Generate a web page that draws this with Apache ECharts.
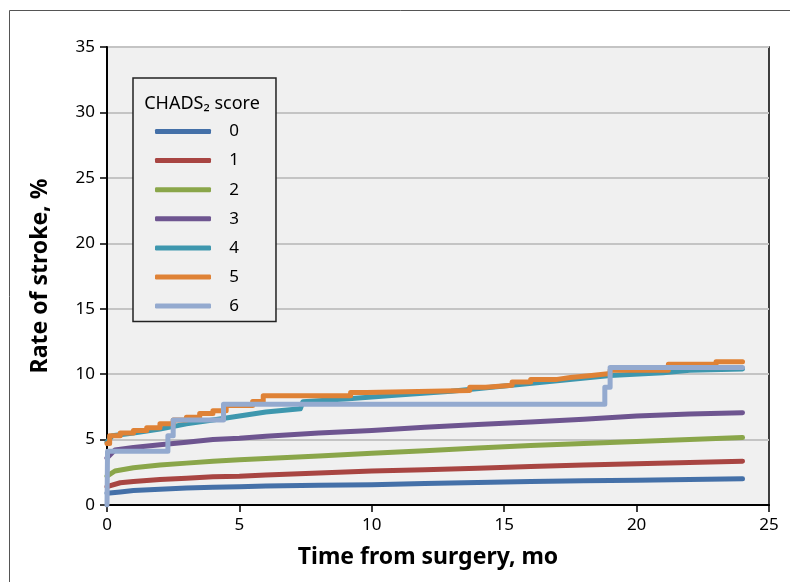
<!DOCTYPE html>
<html>
<head>
<meta charset="utf-8">
<script src="https://cdn.jsdelivr.net/npm/echarts@6/dist/echarts.min.js"></script>
<style>
  html, body { margin: 0; padding: 0; background: #fff; }
  #chart { width: 790px; height: 582px; }
</style>
</head>
<body>
<div id="chart"></div>
<script>
// CHADS2 score groups
var scoreNames = ["0", "1", "2", "3", "4", "5", "6"];
var colors = ["#4470A8", "#A84542", "#8AA64A", "#6E5590", "#3E97AE", "#DF8236", "#94AACF"];

// months / rate of stroke (%)
var t0 = [0, 0.5, 1, 2, 3, 4, 5, 6, 8, 10, 12, 14, 16, 18, 20, 22, 24];
var v0 = [0.9, 1.0, 1.1, 1.2, 1.3, 1.35, 1.4, 1.45, 1.5, 1.55, 1.65, 1.72, 1.8, 1.85, 1.9, 1.95, 2.0];

var t1 = [0, 0.5, 1, 2, 3, 4, 5, 6, 8, 10, 12, 14, 16, 18, 20, 22, 24];
var v1 = [1.4, 1.7, 1.8, 1.95, 2.05, 2.15, 2.2, 2.3, 2.45, 2.6, 2.7, 2.8, 2.95, 3.05, 3.15, 3.25, 3.35];

var t2 = [0, 0.3, 1, 2, 3, 4, 5, 6, 8, 10, 12, 14, 16, 18, 20, 22, 24];
var v2 = [2.2, 2.6, 2.85, 3.05, 3.2, 3.35, 3.45, 3.55, 3.75, 3.95, 4.15, 4.35, 4.55, 4.7, 4.85, 5.0, 5.15];

var t3 = [0, 0.3, 1, 2, 3, 4, 5, 6, 8, 10, 12, 14, 16, 18, 20, 22, 24];
var v3 = [3.6, 4.2, 4.4, 4.6, 4.8, 5.0, 5.1, 5.25, 5.5, 5.7, 5.95, 6.15, 6.35, 6.55, 6.8, 6.95, 7.05];

var t4 = [0, 0.2, 1, 2, 3, 4, 5, 6, 7, 7.3, 7.4, 9, 11, 13, 15, 17, 19, 21, 22, 24];
var v4 = [4.8, 5.3, 5.5, 5.8, 6.2, 6.5, 6.8, 7.1, 7.3, 7.35, 7.9, 8.1, 8.4, 8.7, 9.1, 9.5, 9.9, 10.1, 10.3, 10.4];

var t5 = [0, 0.1, 0.5, 1, 1.5, 2, 2.5, 3, 3.5, 4, 4.5, 5.5, 5.9, 9.2, 9.8, 13.7, 14.3, 15.3, 16, 17, 17.5, 18.3, 19, 21.2, 23, 24];
var v5 = [4.7, 5.3, 5.5, 5.7, 5.9, 6.2, 6.5, 6.7, 7.0, 7.2, 7.6, 7.9, 8.35, 8.6, 8.75, 9.0, 9.15, 9.4, 9.6, 9.75, 9.9, 10.05, 10.3, 10.75, 10.95, 10.95];

var t6 = [0, 0.02, 2.3, 2.5, 4.4, 18.8, 19.0, 24];
var v6 = [0, 4.1, 5.3, 6.5, 7.7, 9.0, 10.5, 10.5];

var xTicks = [0, 5, 10, 15, 20, 25];
var yTicks = [0, 5, 10, 15, 20, 25, 30, 35];

var allT = [t0, t1, t2, t3, t4, t5, t6];
var allV = [v0, v1, v2, v3, v4, v5, v6];
var stepped = [false, false, false, false, false, "end", "end"];

var fontFamily = "'Noto Sans', 'DejaVu Sans', sans-serif";

var chart = echarts.init(document.getElementById("chart"));

var series = scoreNames.map(function (name, i) {
  return {
    name: name,
    type: "line",
    step: stepped[i],
    showSymbol: false,
    symbol: "none",
    data: allT[i].map(function (t, j) {
      return [t, allV[i][j]];
    }),
    lineStyle: {
      width: 5,
      color: colors[i],
      cap: "round",
      join: "round"
    },
    itemStyle: { color: colors[i] }
  };
});

var option = {
  animation: false,
  backgroundColor: "#fff",
  textStyle: { fontFamily: fontFamily },
  graphic: [
    {
      type: "rect",
      shape: { x: 9.5, y: 10.5, width: 800, height: 600 },
      style: { fill: "none", stroke: "#555", lineWidth: 1 },
      z: -10
    }
  ],
  title: {
    text: "CHADS\u2082 score",
    left: 197,
    top: 90,
    textAlign: "center",
    textStyle: {
      fontFamily: fontFamily,
      fontSize: 18,
      fontWeight: "normal",
      color: "#000"
    },
    z: 10
  },
  legend: {
    orient: "vertical",
    left: 133,
    top: 78,
    padding: [45, 37, 7, 22],
    itemWidth: 56,
    itemHeight: 5,
    itemGap: 12.1,
    icon: "roundRect",
    backgroundColor: "#f0f0f0",
    borderColor: "#222",
    borderWidth: 1.5,
    selectedMode: false,
    formatter: function (name) {
      return "   " + name;
    },
    textStyle: {
      fontFamily: fontFamily,
      fontSize: 17,
      color: "#000"
    },
    data: scoreNames
  },
  grid: {
    left: 107,
    right: 21,
    top: 47,
    bottom: 77,
    show: true,
    backgroundColor: "#f0f0f0",
    borderColor: "#000",
    borderWidth: 1.5
  },
  xAxis: {
    type: "value",
    min: xTicks[0],
    max: xTicks[xTicks.length - 1],
    interval: 5,
    name: "Time from surgery, mo",
    nameLocation: "middle",
    nameGap: 41,
    nameTextStyle: {
      fontFamily: fontFamily,
      fontSize: 23,
      fontWeight: "bold",
      color: "#000",
      padding: [0, 20, 0, 0]
    },
    axisLine: { show: true, lineStyle: { color: "#000", width: 2 } },
    axisTick: { show: true, inside: false, length: 7, lineStyle: { color: "#000", width: 1.5 } },
    axisLabel: { fontSize: 17, color: "#000", margin: 12, fontFamily: fontFamily },
    splitLine: { show: false }
  },
  yAxis: {
    type: "value",
    min: yTicks[0],
    max: yTicks[yTicks.length - 1],
    interval: 5,
    name: "Rate of stroke, %",
    nameLocation: "middle",
    nameGap: 55,
    nameRotate: 90,
    nameTextStyle: {
      fontFamily: fontFamily,
      fontSize: 23,
      fontWeight: "bold",
      color: "#000"
    },
    axisLine: { show: true, lineStyle: { color: "#000", width: 2 } },
    axisTick: { show: true, inside: false, length: 7, lineStyle: { color: "#000", width: 1.5 } },
    axisLabel: { fontSize: 17, color: "#000", margin: 12, fontFamily: fontFamily },
    splitLine: { show: true, lineStyle: { color: "#c4c4c4", width: 2 } }
  },
  series: series
};

chart.setOption(option);
</script>
</body>
</html>
